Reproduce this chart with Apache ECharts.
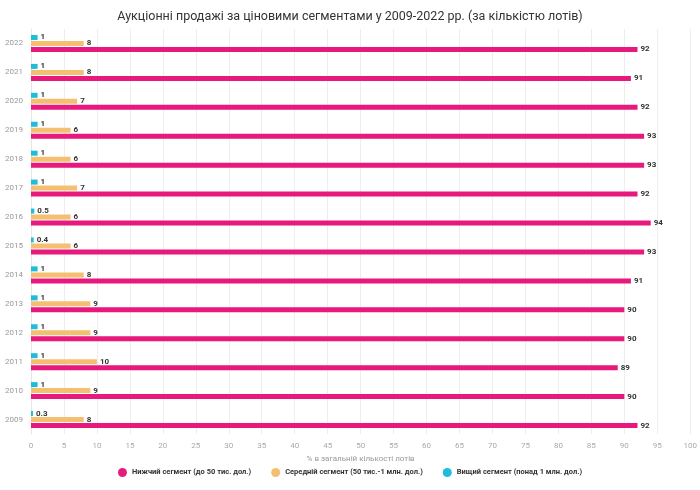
<!DOCTYPE html>
<html>
<head>
<meta charset="utf-8">
<script src="https://cdn.jsdelivr.net/npm/echarts@6/dist/echarts.min.js"></script>
<style>
  html, body { margin: 0; padding: 0; background: #fff; }
  #chart { width: 700px; height: 490px; }
</style>
</head>
<body>
<div id="chart"></div>
<script>
// роки знизу вгору
var years = ['2009', '2010', '2011', '2012', '2013', '2014', '2015', '2016', '2017', '2018', '2019', '2020', '2021', '2022'];
var lowSeg = [92, 90, 89, 90, 90, 91, 93, 94, 92, 93, 93, 92, 91, 92];
var midSeg = [8, 9, 10, 9, 9, 8, 6, 6, 7, 6, 6, 7, 8, 8];
var highSeg = [0.3, 1, 1, 1, 1, 1, 0.4, 0.5, 1, 1, 1, 1, 1, 1];

var seriesNames = [
    'Нижчий сегмент (до 50 тис. дол.)',
    'Середній сегмент (50 тис.-1 млн. дол.)',
    'Вищий сегмент (понад 1 млн. дол.)'
];
var colors = ['#E8197D', '#F5BF72', '#1FBCDB'];

var labelStyle = {
    show: true,
    position: 'right',
    distance: 3,
    fontSize: 8,
    fontWeight: 'bold',
    color: '#333'
};

function makeSeries(name, data, color) {
    return {
        name: name,
        type: 'bar',
        data: data,
        barWidth: 5,
        barGap: '20%',
        itemStyle: { color: color },
        label: labelStyle
    };
}

var chart = echarts.init(document.getElementById('chart'));
chart.setOption({
    animation: false,
    textStyle: { fontFamily: 'Roboto' },
    title: {
        text: 'Аукціонні продажі за ціновими сегментами у 2009-2022 рр. (за кількістю лотів)',
        left: 'center',
        top: 5,
        textStyle: { fontSize: 12.5, fontWeight: 'normal', color: '#333' }
    },
    legend: {
        bottom: 8,
        icon: 'circle',
        itemWidth: 9,
        itemHeight: 9,
        itemGap: 20,
        textStyle: { fontSize: 7.5, fontWeight: 'bold', color: '#333' },
        data: seriesNames
    },
    grid: { left: 31, right: 7, top: 29, bottom: 56 },
    xAxis: {
        type: 'value',
        min: 0,
        max: 100,
        interval: 5,
        name: '% в загальній кількості лотів',
        nameLocation: 'middle',
        nameGap: 14,
        nameTextStyle: { fontSize: 8, color: '#999' },
        axisLabel: { fontSize: 8, color: '#aaa' },
        axisLine: { show: false },
        axisTick: { show: false },
        splitLine: { lineStyle: { color: '#eee' } }
    },
    yAxis: {
        type: 'category',
        data: years,
        axisLabel: { fontSize: 8, color: '#999', margin: 8 },
        axisLine: { lineStyle: { color: '#e6e6e6' } },
        axisTick: { show: false }
    },
    series: [
        makeSeries(seriesNames[2], highSeg, colors[2]),
        makeSeries(seriesNames[1], midSeg, colors[1]),
        makeSeries(seriesNames[0], lowSeg, colors[0])
    ]
});
</script>
</body>
</html>
